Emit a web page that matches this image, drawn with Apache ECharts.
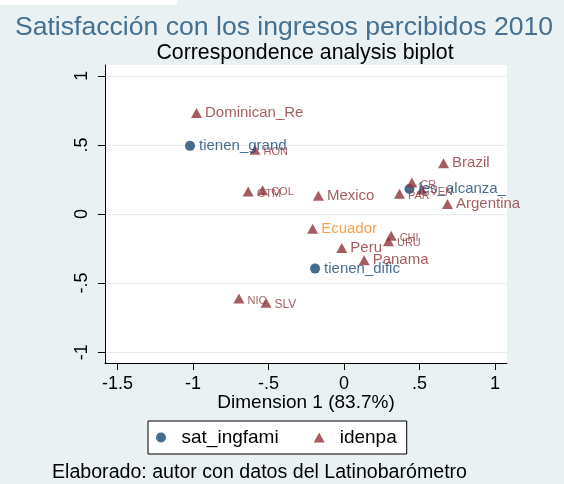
<!DOCTYPE html>
<html>
<head>
<meta charset="utf-8">
<script src="https://cdn.jsdelivr.net/npm/echarts@6/dist/echarts.min.js"></script>
<style>
  html, body { margin: 0; padding: 0; background: #e9f1f3; }
  #chart { width: 564px; height: 484px; }
</style>
</head>
<body>
<div id="chart"></div>
<script>
  // filas (sat_ingfami)
  let rowNames = ['tienen_grand', 'les_alcanza_', 'tienen_dific']
  let rowX = [-1.02, 0.433, -0.192]
  let rowY = [0.493, 0.181, -0.395]

  // columnas (idenpa)
  let colNames = ['Dominican_Re', 'HON', 'GTM', 'COL', 'Mexico', 'Brazil', 'CR', 'PAR', 'VEN',
    'Argentina', 'Ecuador', 'CHI', 'URU', 'Peru', 'Panama', 'NIC', 'SLV']
  let colX = [-0.977, -0.590, -0.635, -0.539, -0.170, 0.659, 0.449, 0.367, 0.515,
    0.685, -0.208, 0.312, 0.294, -0.015, 0.133, -0.696, -0.517]
  let colY = [0.730, 0.465, 0.163, 0.171, 0.132, 0.368, 0.228, 0.147, 0.176,
    0.072, -0.106, -0.157, -0.198, -0.246, -0.335, -0.612, -0.643]

  let xTicks = [-1.5, -1, -0.5, 0, 0.5, 1]
  let yTicks = [-1, -0.5, 0, 0.5, 1]

  // etiquetas pequeñas (se solapan en el original)
  let smallLabels = ['HON', 'GTM', 'COL', 'CR', 'PAR', 'VEN', 'CHI', 'URU', 'NIC', 'SLV']

  const navy = '#1a476f'
  const maroon = '#90353b'
  const font = 'Liberation Sans'

  let fmt = function (v) {
    if (v === 0) return '0'
    return String(v).replace('0.', '.')
  }

  let rowData = rowNames.map((n, i) => ({name: n, value: [rowX[i], rowY[i]]}))
  let colData = colNames.map((n, i) => {
    let item = {name: n, value: [colX[i], colY[i]]}
    if (smallLabels.indexOf(n) >= 0) {
      item.label = {fontSize: n === 'SLV' ? 12 : 11, offset: [0, 2]}
    }
    if (n === 'Ecuador') {
      item.label = {color: '#f28a1e'}
    }
    return item
  })

  let chart = echarts.init(document.getElementById('chart'))

  chart.setOption({
    backgroundColor: '#e9f1f3',
    animation: false,
    textStyle: {fontFamily: font},
    graphic: [
      {type: 'rect', left: 0, top: 0, shape: {width: 177, height: 5}, style: {fill: '#fff'}},
      {
        type: 'text', x: 284, y: 28,
        style: {
          text: 'Satisfacción con los ingresos percibidos 2010', font: '26.6px "Liberation Sans"',
          fill: '#45708f', align: 'center', verticalAlign: 'middle'
        }
      },
      {
        type: 'text', x: 305, y: 53,
        style: {
          text: 'Correspondence analysis biplot', font: '21.3px "Liberation Sans"',
          fill: '#000', align: 'center', verticalAlign: 'middle'
        }
      },
      {
        type: 'text', x: 52, y: 473,
        style: {
          text: 'Elaborado: autor con datos del Latinobarómetro', font: '19.6px "Liberation Sans"',
          fill: '#000', align: 'left', verticalAlign: 'middle'
        }
      }
    ],
    grid: {
      left: 105, right: 57, top: 65, bottom: 121,
      show: true, backgroundColor: '#fff', borderWidth: 0
    },
    legend: {
      left: 148, top: 421,
      padding: [7, 10, 7, 8],
      backgroundColor: '#fff',
      borderColor: '#000',
      borderWidth: 1,
      borderRadius: 0,
      itemWidth: 11,
      itemHeight: 10,
      itemGap: 35,
      textStyle: {fontSize: 19, color: '#000', fontFamily: font, padding: [0, 0, 0, 10]},
      data: [{name: 'sat_ingfami', icon: 'circle'}, {name: 'idenpa', icon: 'triangle'}]
    },
    xAxis: {
      type: 'value',
      min: -1.583,
      max: 1.079,
      name: 'Dimension 1 (83.7%)',
      nameLocation: 'middle',
      nameGap: 30,
      nameMoveOverlap: false,
      nameTextStyle: {fontSize: 19, color: '#000', fontFamily: font},
      axisLine: {show: true, onZero: false, lineStyle: {color: '#000', width: 1}},
      axisTick: {show: true, length: 7, customValues: xTicks, lineStyle: {color: '#000'}},
      axisLabel: {customValues: xTicks, formatter: fmt, fontSize: 18, color: '#000', margin: 12},
      splitLine: {show: false}
    },
    yAxis: {
      type: 'value',
      min: -1.078,
      max: 1.078,
      axisLine: {show: true, onZero: false, lineStyle: {color: '#000', width: 1}},
      axisTick: {show: true, length: 7, customValues: yTicks, lineStyle: {color: '#000'}},
      axisLabel: {customValues: yTicks, formatter: fmt, fontSize: 18, color: '#000', rotate: 90, margin: 14},
      splitLine: {show: true, lineStyle: {color: '#e4edf0', width: 1}}
    },
    series: [
      {
        name: 'sat_ingfami',
        type: 'scatter',
        symbol: 'circle',
        symbolSize: 10,
        itemStyle: {color: navy},
        label: {show: true, position: 'right', distance: 4, formatter: '{b}', fontSize: 15, color: navy, fontFamily: font},
        data: rowData
      },
      {
        name: 'idenpa',
        type: 'scatter',
        symbol: 'triangle',
        symbolSize: [11, 10],
        itemStyle: {color: maroon},
        label: {show: true, position: 'right', distance: 3, formatter: '{b}', fontSize: 15, color: maroon, fontFamily: font},
        data: colData
      }
    ]
  })
</script>
</body>
</html>
